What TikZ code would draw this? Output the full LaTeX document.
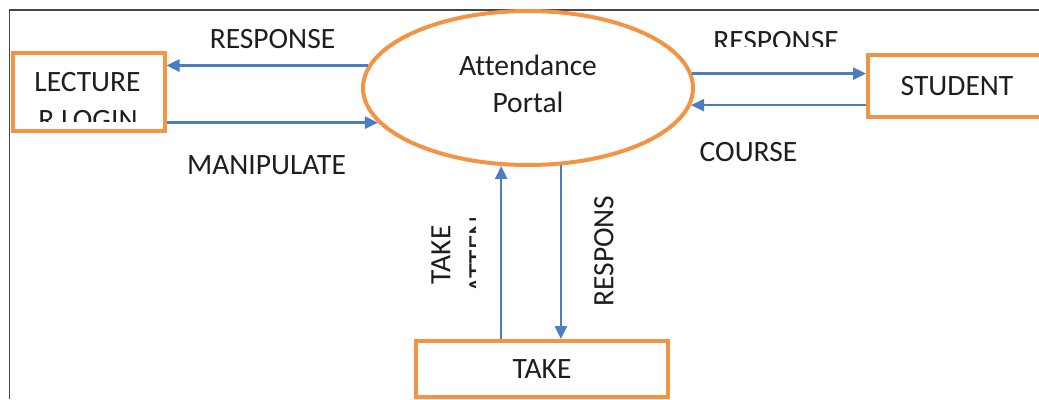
\documentclass[tikz,border=0pt]{standalone}
\usepackage{fontspec}
\setmainfont{Carlito}[Ligatures=NoCommon]
\usetikzlibrary{arrows.meta,shapes.geometric}
\definecolor{boxorange}{RGB}{242,148,68}
\definecolor{flowblue}{RGB}{74,126,192}
\definecolor{inkgray}{RGB}{30,30,30}
\definecolor{framegray}{RGB}{70,70,70}
\begin{document}
\begin{tikzpicture}[x=1pt,y=-1pt,
  font=\fontsize{29.5}{38}\selectfont, text=inkgray,
  entity/.style={draw=boxorange, line width=4pt, rectangle, inner sep=0pt},
  process/.style={draw=boxorange, line width=4pt, ellipse, inner sep=0pt,
    minimum width=330pt, minimum height=154pt, align=center},
  flow/.style={draw=flowblue, line width=2.5pt, -{Triangle[length=13pt,width=12pt]}},
  lbl/.style={inner sep=0pt}]
\useasboundingbox (0,0) rectangle (1039,399);

% outer frame (top and left edges)
\draw[framegray, line width=1.5pt] (9.5,399) -- (9.5,10) -- (1039,10);

% central process and external entities
\node[process] (portal) at (528,88) {Attendance\\[-1pt]Portal\rule[-8pt]{0pt}{0pt}};
\node[entity, minimum width=152pt, minimum height=78pt] (lect) at (88.5,91.5) {};
\node[entity, minimum width=178pt, minimum height=62pt] (stud) at (957,86) {STUDENT};
\node[entity, minimum width=252pt, minimum height=56pt] (take) at (542,369) {TAKE};

% lecturer box text, cut off by the box
\begin{scope}
  \clip (14,54) rectangle (163,121);
  \node[lbl, anchor=base] (lectA) at (87.5,91) {LECTURE};
  \node[lbl, anchor=base] (lectB) at (88,129) {R LOGIN};
\end{scope}

% data flows
\draw[flow] (portal.172.5) -- (lect.east |- portal.172.5);
\draw[flow] (lect.east |- portal.193.4) -- (portal.193.4);
\draw[flow] (portal.5.7) -- (stud.west |- portal.5.7);
\draw[flow] (stud.west |- portal.-6) -- (portal.-6);
\draw[flow] (take.north -| portal.251.8) -- (portal.251.8);
\draw[flow] (portal.293) -- (take.north -| portal.293);

% flow labels
\node[lbl] (lresp) at (272.5,39) {RESPONSE};
\node[lbl] (manip) at (266.5,165) {MANIPULATE};
\begin{scope}
  \clip (700,20) rectangle (860,46.5);
  \node[lbl] (rresp) at (776,41) {RESPONSE};
\end{scope}
\node[lbl] (course) at (748.5,152) {COURSE};
\begin{scope}
  \clip (420,200) rectangle (475.5,310);
  \node[lbl, rotate=90, align=center] (takeatt) at (460,255) {TAKE\\ATTEN};
\end{scope}
\node[lbl, rotate=90] (resp2) at (604,251) {RESPONS};
\end{tikzpicture}
\end{document}
